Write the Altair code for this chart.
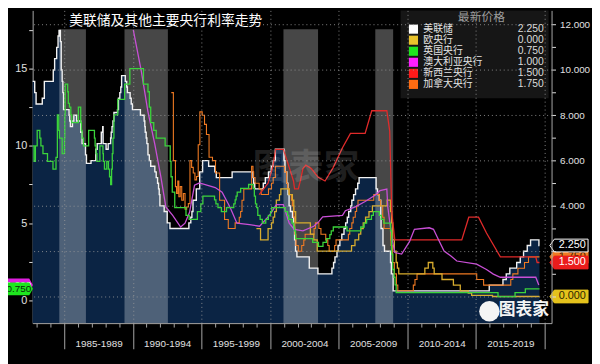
import altair as alt
import pandas as pd

# ---------------- text ----------------
TITLE = "美联储及其他主要央行利率走势"
LEGEND_HEADER = "最新价格"
WATERMARK = "图表家"

bank_names = ["美联储", "欧央行", "英国央行", "澳大利亚央行", "新西兰央行", "加拿大央行"]
latest_values = [2.25, 0.0, 0.75, 1.0, 1.5, 1.75]
swatch_colors = ["#ffffff", "#e9c32c", "#1ee61e", "#ff1eff", "#ff1a1a", "#ff6c12"]
line_colors = ["#f2f2f2", "#d9ad2e", "#3bd43b", "#c94fd6", "#e02a2a", "#f07a22"]
tag_fill = ["#000000", "#e4c21c", "#1ee61e", "#e01ee0", "#ea1c1c", "#f07a22"]
tag_stroke = ["#ffffff", "#e4c21c", "#1ee61e", "#e01ee0", "#ea1c1c", "#f07a22"]
tag_text = ["#ffffff", "#2c2600", "#0a2a0a", "#ffffff", "#ffffff", "#3a1800"]

period_labels = ["1985-1989", "1990-1994", "1995-1999", "2000-2004",
                 "2005-2009", "2010-2014", "2015-2019"]
period_mids = [1987.5, 1992.5, 1997.5, 2002.5, 2007.5, 2012.5, 2017.5]
minor_years = list(range(1983, 2021))

# Fed easing periods (grey bands)
easing_start = [1984.64, 1989.39, 2000.97, 2007.66]
easing_end = [1986.58, 1992.55, 2003.49, 2008.96]
band_top = 11.8  # right-axis units

# ---------------- series (right axis) ----------------
fed_year = [1982.70, 1982.85, 1982.95, 1983.40, 1983.55, 1984.20, 1984.30, 1984.45, 1984.55, 1984.62,
            1984.72, 1984.78, 1984.85, 1984.90, 1984.95, 1985.35, 1985.40, 1985.45, 1985.60, 1985.70,
            1985.90, 1986.20, 1986.30, 1986.55, 1986.62, 1986.95, 1987.30, 1987.40, 1987.70, 1987.80,
            1987.83, 1988.05, 1988.20, 1988.38, 1988.42, 1988.48, 1988.55, 1988.62, 1988.88, 1988.95,
            1989.05, 1989.12, 1989.18, 1989.45, 1989.55, 1989.60, 1989.80, 1989.88, 1989.97, 1990.55,
            1990.82, 1990.87, 1990.90, 1990.97, 1991.02, 1991.10, 1991.20, 1991.30, 1991.60, 1991.70,
            1991.80, 1991.87, 1991.92, 1991.97, 1992.28, 1992.50, 1992.70, 1994.08, 1994.22, 1994.30,
            1994.38, 1994.62, 1994.87, 1995.08, 1995.52, 1995.97, 1996.08, 1997.23, 1998.75, 1998.80,
            1998.88, 1999.50, 1999.65, 1999.88, 2000.08, 2000.22, 2000.38, 2001.01, 2001.08, 2001.22,
            2001.30, 2001.38, 2001.48, 2001.63, 2001.72, 2001.78, 2001.85, 2001.95, 2002.85, 2003.48,
            2004.50, 2004.62, 2004.72, 2004.87, 2004.95, 2005.08, 2005.22, 2005.38, 2005.50, 2005.62,
            2005.72, 2005.87, 2005.95, 2006.08, 2006.22, 2006.38, 2006.48, 2007.72, 2007.82, 2007.95,
            2008.06, 2008.08, 2008.22, 2008.33, 2008.77, 2008.83, 2008.96, 2015.96, 2016.96, 2017.20,
            2017.46, 2017.96, 2018.22, 2018.46, 2018.73, 2018.97, 2019.58, 2019.62]
fed_rate = [9.5, 9.0, 8.5, 8.75, 9.5, 10.0, 10.5, 11.0, 11.5, 11.75,
            11.25, 10.0, 9.5, 9.0, 8.25, 8.0, 7.75, 7.5, 7.75, 8.0,
            7.75, 7.25, 6.75, 6.25, 5.875, 6.0, 6.5, 6.75, 7.25, 7.5,
            6.75, 6.5, 6.75, 7.0, 7.25, 7.5, 7.75, 8.125, 8.25, 8.75,
            9.0, 9.25, 9.75, 9.5, 9.25, 9.0, 8.75, 8.5, 8.25, 8.0,
            7.75, 7.5, 7.25, 7.0, 6.75, 6.25, 6.0, 5.75, 5.5, 5.25,
            5.0, 4.75, 4.5, 4.0, 3.75, 3.25, 3.0, 3.25, 3.5, 3.75,
            4.25, 4.75, 5.5, 6.0, 5.75, 5.5, 5.25, 5.5, 5.25, 5.0,
            4.75, 5.0, 5.25, 5.5, 5.75, 6.0, 6.5, 6.0, 5.5, 5.0,
            4.5, 4.0, 3.75, 3.5, 3.0, 2.5, 2.0, 1.75, 1.25, 1.0,
            1.25, 1.5, 1.75, 2.0, 2.25, 2.5, 2.75, 3.0, 3.25, 3.5,
            3.75, 4.0, 4.25, 4.5, 4.75, 5.0, 5.25, 4.75, 4.5, 4.25,
            3.5, 3.0, 2.25, 2.0, 1.5, 1.0, 0.25, 0.5, 0.75, 1.0,
            1.25, 1.5, 1.75, 2.0, 2.25, 2.5, 2.25, 2.25]

ecb_year = [1999.00, 1999.30, 1999.85, 2000.10, 2000.22, 2000.33, 2000.45, 2000.68, 2000.78, 2001.37,
            2001.62, 2001.72, 2001.86, 2002.93, 2003.18, 2003.43, 2005.93, 2006.18, 2006.45, 2006.60,
            2006.78, 2006.95, 2007.20, 2007.45, 2008.52, 2008.77, 2008.85, 2008.93, 2009.05, 2009.18,
            2009.27, 2009.37, 2011.27, 2011.52, 2011.85, 2011.95, 2012.52, 2013.35, 2013.85, 2014.43,
            2014.68, 2016.20, 2019.62]
ecb_rate = [3.0, 2.5, 3.0, 3.25, 3.5, 3.75, 4.25, 4.5, 4.75, 4.5,
            4.25, 3.75, 3.25, 2.75, 2.5, 2.0, 2.25, 2.5, 2.75, 3.0,
            3.25, 3.5, 3.75, 4.0, 4.25, 3.75, 3.25, 2.5, 2.0, 1.5,
            1.25, 1.0, 1.25, 1.5, 1.25, 1.0, 0.75, 0.5, 0.25, 0.15,
            0.05, 0.0, 0.0]

rbnz_year = [1999.20, 1999.85, 2000.20, 2000.40, 2000.96, 2001.39, 2001.70, 2001.78, 2002.05, 2002.20,
             2002.39, 2002.60, 2003.00, 2003.50, 2004.00, 2004.60, 2005.27, 2005.85, 2006.92, 2007.40,
             2008.50, 2008.71, 2008.86, 2009.08, 2013.96, 2014.47, 2015.18, 2015.76, 2016.77, 2019.35,
             2019.45, 2019.62]
rbnz_rate = [4.5, 5.0, 5.75, 6.5, 6.5, 5.7, 5.1, 4.75, 4.75, 5.1,
             5.65, 5.8, 5.65, 5.26, 5.1, 5.7, 6.57, 7.2, 7.2, 8.2,
             8.2, 7.3, 3.7, 2.5, 2.5, 3.5, 3.5, 2.8, 1.75, 1.75,
             1.5, 1.5]

boc_year = [1992.80, 1992.95, 1993.10, 1993.18, 1993.27, 1993.35, 1993.45, 1993.56, 1993.68, 1993.80,
            1993.92, 1994.04, 1994.16, 1994.28, 1994.40, 1994.52, 1994.64, 1994.76, 1994.88, 1995.05,
            1995.22, 1995.36, 1995.55, 1995.80, 1996.02, 1996.32, 1996.68, 1996.95, 1997.45, 1997.75,
            1997.85, 1997.95, 1998.08, 1998.65, 1998.75, 1998.80, 1998.90, 1999.20, 1999.35, 1999.88,
            2000.10, 2000.22, 2000.38, 2001.05, 2001.20, 2001.28, 2001.40, 2001.55, 2001.62, 2001.72,
            2001.80, 2001.88, 2002.05, 2002.30, 2002.45, 2002.55, 2003.20, 2003.30, 2003.55, 2003.70,
            2004.05, 2004.20, 2004.30, 2004.70, 2004.80, 2005.70, 2005.80, 2005.95, 2006.05, 2006.20,
            2006.30, 2006.40, 2007.55, 2007.95, 2008.05, 2008.20, 2008.30, 2008.78, 2008.80, 2008.92,
            2009.05, 2009.20, 2009.30, 2010.43, 2010.55, 2010.70, 2015.05, 2015.55, 2017.53, 2017.68,
            2018.05, 2018.53, 2018.82, 2019.62]
boc_rate = [9.0, 6.0, 4.85, 4.55, 5.1, 4.4, 4.85, 4.25, 4.55, 3.85,
            3.95, 4.1, 6.0, 5.7, 5.45, 5.15, 5.3, 6.7, 8.15, 8.0,
            7.6, 7.15, 6.15, 6.0, 5.45, 4.25, 3.4, 3.0, 3.25, 3.5,
            3.75, 4.25, 4.75, 5.75, 5.5, 5.25, 5.0, 4.75, 4.5, 4.75,
            5.0, 5.25, 5.75, 5.5, 5.0, 4.75, 4.5, 4.25, 4.0, 3.5,
            2.75, 2.25, 2.0, 2.25, 2.5, 2.75, 3.0, 3.25, 3.0, 2.75,
            2.5, 2.25, 2.0, 2.25, 2.5, 2.75, 3.0, 3.25, 3.5, 3.75,
            4.0, 4.25, 4.5, 4.25, 4.0, 3.5, 3.0, 2.5, 2.25, 1.5,
            1.0, 0.5, 0.25, 0.5, 0.75, 1.0, 0.75, 0.5, 0.75, 1.0,
            1.25, 1.5, 1.75, 1.75]

# ---------------- series (left axis) ----------------
boe_year = [1982.70, 1982.80, 1982.90, 1983.03, 1983.22, 1983.30, 1983.45, 1983.78, 1984.18, 1984.40,
            1984.50, 1984.60, 1984.65, 1984.85, 1985.02, 1985.04, 1985.07, 1985.25, 1985.30, 1985.38,
            1985.48, 1985.55, 1986.03, 1986.20, 1986.25, 1986.30, 1986.40, 1986.78, 1987.20, 1987.25,
            1987.32, 1987.38, 1987.60, 1987.82, 1987.85, 1987.93, 1988.10, 1988.22, 1988.30, 1988.38,
            1988.45, 1988.50, 1988.55, 1988.62, 1988.90, 1989.40, 1989.78, 1990.77, 1991.10, 1991.20,
            1991.30, 1991.52, 1991.70, 1992.35, 1992.72, 1992.78, 1992.87, 1993.05, 1993.87, 1994.10,
            1994.70, 1994.95, 1995.10, 1995.95, 1996.05, 1996.20, 1996.45, 1996.82, 1997.35, 1997.45,
            1997.52, 1997.60, 1997.85, 1998.43, 1998.77, 1998.85, 1998.93, 1999.02, 1999.10, 1999.27,
            1999.43, 1999.68, 1999.87, 2000.03, 2000.12, 2001.10, 2001.27, 2001.35, 2001.60, 2001.72,
            2001.78, 2001.85, 2003.10, 2003.52, 2003.85, 2004.10, 2004.35, 2004.45, 2004.60, 2005.60,
            2006.60, 2006.85, 2007.03, 2007.38, 2007.52, 2007.95, 2008.10, 2008.28, 2008.77, 2008.85,
            2008.93, 2009.03, 2009.10, 2009.18, 2016.60, 2017.84, 2018.59, 2019.62]
boe_rate = [10.0, 9.0, 10.0, 11.0, 10.5, 10.0, 9.5, 9.0, 8.5, 9.25,
            12.0, 11.0, 10.5, 9.5, 10.5, 12.0, 14.0, 13.5, 12.75, 12.5,
            12.0, 11.5, 12.5, 11.5, 11.0, 10.5, 10.0, 11.0, 10.5, 10.0,
            9.5, 9.0, 10.0, 9.5, 9.0, 8.5, 9.0, 8.5, 8.0, 7.5,
            8.5, 9.5, 10.5, 12.0, 13.0, 14.0, 15.0, 14.0, 13.5, 12.5,
            11.5, 11.0, 10.5, 10.0, 9.0, 8.0, 7.0, 6.0, 5.5, 5.25,
            5.75, 6.25, 6.75, 6.5, 6.25, 6.0, 5.75, 6.0, 6.25, 6.5,
            6.75, 7.0, 7.25, 7.5, 7.25, 6.75, 6.25, 6.0, 5.5, 5.25,
            5.0, 5.25, 5.5, 5.75, 6.0, 5.75, 5.5, 5.25, 5.0, 4.75,
            4.5, 4.0, 3.75, 3.5, 3.75, 4.0, 4.25, 4.5, 4.75, 4.5,
            4.75, 5.0, 5.25, 5.5, 5.75, 5.5, 5.25, 5.0, 4.5, 3.0,
            2.0, 1.5, 1.0, 0.5, 0.25, 0.5, 0.75, 0.75]

rba_year = [1990.03, 1990.62, 1991.10, 1991.60, 1992.04, 1992.40, 1992.90, 1993.48, 1993.80, 1994.13,
            1994.49, 1994.85, 1996.00, 1996.50, 1997.07, 1997.58, 1998.50, 1999.23, 1999.95, 2000.45,
            2000.96, 2001.39, 2001.75, 2002.39, 2003.18, 2003.54, 2003.83, 2005.27, 2005.48, 2006.20,
            2006.92, 2007.64, 2008.00, 2008.50, 2008.57, 2008.86, 2009.08, 2009.58, 2010.15, 2010.51,
            2011.59, 2011.90, 2012.17, 2012.67, 2013.17, 2013.60, 2015.04, 2015.76, 2016.26, 2016.77,
            2019.35, 2019.57]
rba_rate = [17.5, 14.8, 12.2, 10.1, 8.0, 6.05, 5.5, 4.75, 5.0, 5.7,
            7.45, 7.6, 7.3, 7.0, 6.05, 5.0, 4.9, 4.8, 5.5, 6.2,
            6.2, 5.0, 4.6, 4.5, 4.8, 5.1, 5.4, 5.5, 5.8, 6.05,
            6.4, 6.8, 7.1, 7.2, 6.05, 4.1, 3.1, 3.0, 3.8, 4.6,
            4.7, 4.6, 4.1, 3.2, 2.87, 2.55, 2.35, 2.0, 1.7, 1.5,
            1.5, 1.0]

# ---------------- scales & axes ----------------
X_DOMAIN = [1982.70, 2020.50]
L_DOMAIN = [-1.468, 18.762]
R_DOMAIN = [-1.176, 12.631]
XS = alt.Scale(domain=X_DOMAIN, nice=False, zero=False)
LS = alt.Scale(domain=L_DOMAIN, nice=False, zero=False)
RS = alt.Scale(domain=R_DOMAIN, nice=False, zero=False)

label_expr = "''"
for m, lab in reversed(list(zip(period_mids, period_labels))):
    label_expr = f"datum.value == {m} ? '{lab}' : ({label_expr})"

AX_COL = "#a8a8a8"
XAXIS = alt.Axis(
    orient="bottom", title=None, values=minor_years + period_mids,
    labelExpr=label_expr, labelOverlap=False, labelFlush=False,
    labelColor="#e0e0e0", labelFont="Liberation Sans", labelFontSize=10,
    labelPadding=16, domainColor=AX_COL, tickColor=AX_COL,
    tickSize={"condition": [{"test": "datum.value % 5 == 0", "value": 26},
                            {"test": "datum.value % 1 != 0", "value": 0}], "value": 4},
    grid=True, gridColor="#9a9a9a", gridDash=[1, 3],
    gridOpacity={"condition": {"test": "datum.value % 5 == 0", "value": 0.85}, "value": 0},
    zindex=1,
)
LAXIS = alt.Axis(
    orient="left", title=None, values=[0, 2.5, 5, 7.5, 10, 12.5, 15, 17.5],
    labelExpr="datum.value % 5 == 0 ? toString(datum.value) : ''",
    labelColor="#e0e0e0", labelFont="Liberation Sans", labelFontSize=11,
    domainColor=AX_COL, tickColor="#dddddd", tickSize=4, grid=False, labelPadding=2,
)
RAXIS = alt.Axis(
    orient="right", title=None, values=list(range(0, 13)),
    labelExpr="(datum.value % 2 == 0 && datum.value > 3) ? format(datum.value, '.3f') : ''",
    labelColor="#e0e0e0", labelFont="Liberation Sans", labelFontSize=10,
    domainColor=AX_COL, tickColor="#dddddd", tickSize=4, labelPadding=4,
    grid=True, gridColor="#9a9a9a", gridDash=[1, 3],
    gridOpacity={"condition": {"test": "datum.value % 2 == 0", "value": 0.85}, "value": 0},
    zindex=1,
)


def xenc(field="year"):
    return alt.X(f"{field}:Q", scale=XS, axis=XAXIS)


# ---------------- frames ----------------
fed = pd.DataFrame({"year": fed_year, "rate": fed_rate, "base": R_DOMAIN[0]})
ecb = pd.DataFrame({"year": ecb_year, "rate": ecb_rate})
rbnz = pd.DataFrame({"year": rbnz_year, "rate": rbnz_rate})
boc = pd.DataFrame({"year": boc_year, "rate": boc_rate})
boe = pd.DataFrame({"year": boe_year, "rate": boe_rate})
rba = pd.DataFrame({"year": rba_year, "rate": rba_rate})
bands = pd.DataFrame({"start": easing_start, "end": easing_end, "top": band_top,
                      "base": R_DOMAIN[0]})

fed_area = alt.Chart(fed).mark_area(interpolate="step-after", color="#0b2444").encode(
    x=xenc(), y=alt.Y("rate:Q", scale=RS, axis=RAXIS), y2="base:Q")

band_layer = alt.Chart(bands).mark_rect(color="#ffffff", opacity=0.28).encode(
    x=alt.X("start:Q", scale=XS, axis=XAXIS), x2="end:Q",
    y=alt.Y("top:Q", scale=RS, axis=None), y2="base:Q")


def rline(df, color, interp, width=1.3):
    return alt.Chart(df).mark_line(interpolate=interp, color=color, strokeWidth=width).encode(
        x=xenc(), y=alt.Y("rate:Q", scale=RS, axis=None))


def lline(df, color, interp, axis=None, width=1.3):
    return alt.Chart(df).mark_line(interpolate=interp, color=color, strokeWidth=width).encode(
        x=xenc(), y=alt.Y("rate:Q", scale=LS, axis=axis))


fed_line = rline(fed, line_colors[0], "step-after", 1.4)
ecb_line = rline(ecb, line_colors[1], "step-after")
rbnz_line = rline(rbnz, line_colors[4], "linear")
boc_line = rline(boc, line_colors[5], "step-after", 1.1)
boe_line = lline(boe, line_colors[2], "step-after", LAXIS)
rba_line = lline(rba, line_colors[3], "linear")

# ---------------- title, legend, watermark (positions relative to plot origin) ----------------
one = pd.DataFrame({"t": [TITLE], "h": [LEGEND_HEADER], "w": [WATERMARK]})
title = alt.Chart(one).mark_text(align="left", baseline="middle", font="Noto Sans CJK SC",
                                 fontSize=14, color="#ffffff").encode(
    text="t:N", x=alt.value(37), y=alt.value(11))

legend_bg = alt.Chart(one).mark_rect(color="#161616").encode(
    x=alt.value(373), x2=alt.value(523), y=alt.value(0), y2=alt.value(89))
legend_head = alt.Chart(one).mark_text(align="center", baseline="middle", font="Noto Sans CJK SC",
                                       fontSize=12, color="#9c9c9c").encode(
    text="h:N", x=alt.value(455), y=alt.value(7))

leg = pd.DataFrame({"name": bank_names, "val": latest_values, "sw": swatch_colors})
leg_y = alt.Y("name:N", scale=alt.Scale(type="point", domain=bank_names, range=[19, 75], padding=0),
              axis=None)
leg_sw = alt.Chart(leg).mark_square(size=85, opacity=1).encode(
    x=alt.value(386), y=leg_y, color=alt.Color("sw:N", scale=None))
leg_name = alt.Chart(leg).mark_text(align="left", baseline="middle", font="Noto Sans CJK SC",
                                    fontSize=10, color="#e4e4e4").encode(
    x=alt.value(396), y=leg_y, text="name:N")
leg_val = alt.Chart(leg).mark_text(align="right", baseline="middle", font="Liberation Sans",
                                   fontSize=10.5, color="#dcdcdc").encode(
    x=alt.value(518), y=leg_y, text=alt.Text("val:Q", format=".3f"))

watermark = alt.Chart(one).mark_text(align="center", baseline="middle", font="Noto Sans CJK SC",
                                     fontSize=36, fontWeight="bold", color="#ffffff",
                                     opacity=0.12).encode(
    text="w:N", x=alt.value(277), y=alt.value(160))
logo_dot = alt.Chart(one).mark_point(shape="circle", filled=True, size=430, color="#f4f4f4",
                                     opacity=1).encode(x=alt.value(463), y=alt.value(305))
logo_txt = alt.Chart(one).mark_text(align="center", baseline="middle", font="Noto Sans CJK SC",
                                    fontSize=17, fontWeight="bold", color="#f4f4f4").encode(
    text="w:N", x=alt.value(498), y=alt.value(304))

# ---------------- last-value tags (one box + text pair per series, drawn in order) ----------------
RIGHT_TAG = "M-1.15,0L-0.9,-0.36L1,-0.36L1,0.36L-0.9,0.36Z"
LEFT_TAG = "M1.15,0L0.9,-0.43L-1,-0.43L-1,0.43L0.9,0.43Z"


def tag(i, scale, side):
    df = pd.DataFrame({"val": [latest_values[i]], "fill": [tag_fill[i]],
                       "stroke": [tag_stroke[i]], "tc": [tag_text[i]],
                       "label": [f"{latest_values[i]:.3f}"]})
    y = alt.Y("val:Q", scale=scale, axis=None)
    if side == "right":
        box = alt.Chart(df).mark_point(shape=RIGHT_TAG, filled=True, size=1296, opacity=1,
                                       strokeWidth=1).encode(
            x=alt.value(545), y=y, fill=alt.Fill("fill:N", scale=None),
            stroke=alt.Stroke("stroke:N", scale=None))
        txt = alt.Chart(df).mark_text(align="center", baseline="middle", font="Liberation Sans",
                                      fontSize=11).encode(
            x=alt.value(547), y=y, text="label:N", color=alt.Color("tc:N", scale=None))
    else:
        box = alt.Chart(df).mark_point(shape=LEFT_TAG, filled=True, size=900, opacity=1,
                                       strokeWidth=0).encode(
            x=alt.value(-17), y=y, fill=alt.Fill("fill:N", scale=None))
        txt = alt.Chart(df).mark_text(align="center", baseline="middle", font="Liberation Sans",
                                      fontSize=10).encode(
            x=alt.value(-14), y=y, text="label:N", color=alt.Color("tc:N", scale=None))
    return [box, txt]


tag_layers = (tag(5, RS, "right") + tag(4, RS, "right") + tag(0, RS, "right")
              + tag(1, RS, "right") + tag(3, LS, "left") + tag(2, LS, "left"))

chart = alt.layer(
    fed_area, band_layer, fed_line, boc_line, ecb_line, rbnz_line, rba_line, boe_line,
    watermark, logo_dot, logo_txt, title,
    legend_bg, legend_head, leg_sw, leg_name, leg_val,
    *tag_layers,
).resolve_scale(y="independent").properties(
    width=526, height=317,
    padding={"left": 25, "top": 0, "right": 41, "bottom": 39},
    autosize=alt.AutoSizeParams(type="none"),
).configure(background="#000000").configure_view(strokeWidth=0, fill="#000000")

chart.save("out.html", embed_options={"renderer": "svg", "actions": False})
